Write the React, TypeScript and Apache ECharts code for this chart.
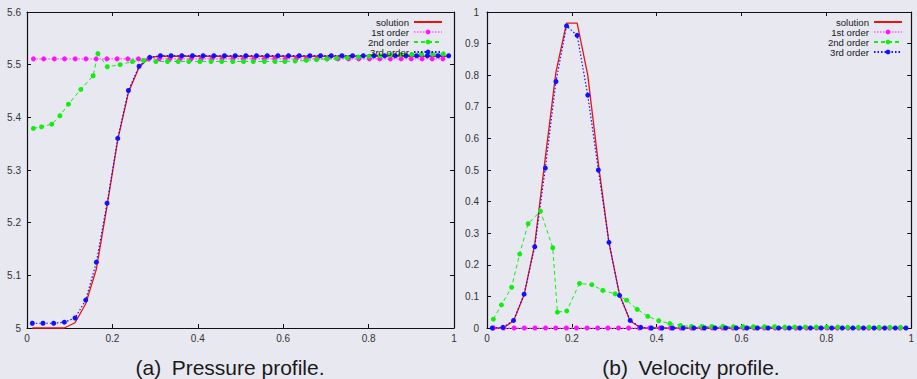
import React, { useEffect, useRef } from "react";
import * as echarts from "echarts";

// Cell centres used by the exact solution and the 3rd order scheme
const xCells = [
  0.0125, 0.0375, 0.0625, 0.0875, 0.1125, 0.1375, 0.1625, 0.1875, 0.2125, 0.2375,
  0.2625, 0.2875, 0.3125, 0.3375, 0.3625, 0.3875, 0.4125, 0.4375, 0.4625, 0.4875,
  0.5125, 0.5375, 0.5625, 0.5875, 0.6125, 0.6375, 0.6625, 0.6875, 0.7125, 0.7375,
  0.7625, 0.7875, 0.8125, 0.8375, 0.8625, 0.8875, 0.9125, 0.9375, 0.9625, 0.9875,
];

// Nodes of the 1st order scheme
const xFirst = [
  0.015, 0.039, 0.064, 0.088, 0.113, 0.138, 0.162, 0.187, 0.211, 0.236,
  0.261, 0.285, 0.31, 0.334, 0.359, 0.384, 0.408, 0.433, 0.457, 0.482,
  0.507, 0.531, 0.556, 0.58, 0.605, 0.63, 0.654, 0.679, 0.703, 0.728,
  0.753, 0.777, 0.802, 0.826, 0.851, 0.876, 0.9, 0.925, 0.949, 0.974,
];

// Nodes of the 2nd order scheme (refined near the pulse)
const xSecond = [
  0.015, 0.034, 0.058, 0.077, 0.097, 0.126, 0.155, 0.166, 0.188, 0.218,
  0.247, 0.273, 0.302, 0.329, 0.354, 0.379, 0.405, 0.431, 0.456, 0.482,
  0.507, 0.53, 0.556, 0.581, 0.604, 0.628, 0.654, 0.678, 0.702, 0.725,
  0.75, 0.776, 0.801, 0.827, 0.85, 0.875, 0.901, 0.924, 0.95, 0.975,
];

// (a) pressure
const pSolution = [
  5.0, 5.0, 5.0, 5.0, 5.01, 5.046, 5.112, 5.232, 5.357, 5.447,
  5.495, 5.514, 5.516, 5.516, 5.516, 5.516, 5.516, 5.516, 5.516, 5.516,
  5.516, 5.516, 5.516, 5.516, 5.516, 5.516, 5.516, 5.516, 5.516, 5.516,
  5.516, 5.516, 5.516, 5.516, 5.516, 5.516, 5.516, 5.516, 5.516, 5.516,
];
const pFirst = [
  5.511, 5.511, 5.511, 5.511, 5.511, 5.511, 5.511, 5.511, 5.511, 5.511,
  5.511, 5.511, 5.511, 5.511, 5.511, 5.511, 5.511, 5.511, 5.511, 5.511,
  5.511, 5.511, 5.511, 5.511, 5.511, 5.511, 5.511, 5.511, 5.511, 5.511,
  5.511, 5.511, 5.511, 5.511, 5.511, 5.511, 5.511, 5.511, 5.511, 5.511,
];
const pSecond = [
  5.379, 5.382, 5.387, 5.403, 5.425, 5.453, 5.479, 5.521, 5.496, 5.5,
  5.506, 5.508, 5.506, 5.506, 5.506, 5.506, 5.506, 5.506, 5.506, 5.506,
  5.506, 5.506, 5.506, 5.506, 5.506, 5.507, 5.508, 5.5095, 5.511, 5.512,
  5.513, 5.5145, 5.516, 5.517, 5.518, 5.519, 5.5195, 5.52, 5.52, 5.5205,
];
const pThird = [
  5.009, 5.009, 5.009, 5.011, 5.019, 5.053, 5.125, 5.237, 5.36, 5.451,
  5.497, 5.514, 5.517, 5.517, 5.517, 5.517, 5.517, 5.517, 5.517, 5.517,
  5.517, 5.517, 5.517, 5.517, 5.517, 5.517, 5.517, 5.517, 5.517, 5.517,
  5.517, 5.517, 5.517, 5.517, 5.517, 5.517, 5.517, 5.517, 5.517, 5.517,
];

// (b) velocity
const uSolution = [
  0, 0, 0.022, 0.105, 0.265, 0.54, 0.81, 0.965, 0.965, 0.8,
  0.52, 0.27, 0.105, 0.022, 0, 0, 0, 0, 0, 0,
  0, 0, 0, 0, 0, 0, 0, 0, 0, 0,
  0, 0, 0, 0, 0, 0, 0, 0, 0, 0,
];
const uFirst = [
  0, 0, 0, 0, 0, 0, 0, 0, 0, 0,
  0, 0, 0, 0, 0, 0, 0, 0, 0, 0,
  0, 0, 0, 0, 0, 0, 0, 0, 0, 0,
  0, 0, 0, 0, 0, 0, 0, 0, 0, 0,
];
const uSecond = [
  0.028, 0.073, 0.129, 0.234, 0.33, 0.37, 0.254, 0.05, 0.054, 0.141,
  0.137, 0.119, 0.108, 0.088, 0.059, 0.037, 0.023, 0.014, 0.008, 0.005,
  0.005, 0.005, 0.005, 0.004, 0.004, 0.004, 0.004, 0.004, 0.003, 0.003,
  0.003, 0.003, 0.003, 0.003, 0.002, 0.002, 0.002, 0.002, 0.002, 0.002,
];
const uThird = [
  0, 0.002, 0.024, 0.107, 0.257, 0.506, 0.78, 0.956, 0.926, 0.737,
  0.5, 0.271, 0.103, 0.024, 0.002, 0, 0, 0, 0, 0,
  0, 0, 0, 0, 0, 0, 0, 0, 0, 0,
  0, 0, 0, 0, 0, 0, 0, 0, 0, 0,
];

const seriesNames = ["solution", "1st order", "2nd order", "3rd order"];
const captions = ["(a)\u2002Pressure profile.", "(b)\u2002Velocity profile."];

const FONT = '"Liberation Sans", Arial, Helvetica, sans-serif';
const BG = "#e8e8f1";

const pairs = (xs: number[], ys: number[]) => xs.map((x, i) => [x, ys[i]]);

function profileSeries(idx: number, sol: number[], first: number[], second: number[], third: number[]) {
  const base = {
    type: "line",
    xAxisIndex: idx,
    yAxisIndex: idx,
    clip: false,
    silent: true,
    emphasis: { disabled: true },
  };
  return [
    {
      ...base,
      name: seriesNames[0],
      data: pairs(xCells, sol),
      symbol: "none",
      lineStyle: { color: "#ee1111", width: 1.3, type: "solid" },
      itemStyle: { color: "#ee1111" },
    },
    {
      ...base,
      name: seriesNames[1],
      data: pairs(xFirst, first),
      symbol: "circle",
      symbolSize: 5,
      lineStyle: { color: "#ff77ff", width: 1.6, type: [1.5, 1.5] },
      itemStyle: { color: "#ff11ff" },
    },
    {
      ...base,
      name: seriesNames[2],
      data: pairs(xSecond, second),
      symbol: "circle",
      symbolSize: 5,
      lineStyle: { color: "#11ee11", width: 1, type: [4, 3] },
      itemStyle: { color: "#11ee11" },
    },
    {
      ...base,
      name: seriesNames[3],
      data: pairs(xCells, third),
      symbol: "circle",
      symbolSize: 5,
      lineStyle: { color: "#1111ff", width: 1.2, type: [1.5, 2] },
      itemStyle: { color: "#1111ff" },
    },
  ];
}

function xAxisPair() {
  const common = {
    type: "value",
    min: 0,
    max: 1,
    interval: 0.2,
    splitLine: { show: false },
    axisLine: { show: true, onZero: false, lineStyle: { color: "#111", width: 1.2 } },
    axisTick: { show: true, inside: true, length: 4, lineStyle: { color: "#111" } },
  };
  return [
    {
      ...common,
      position: "bottom",
      axisLabel: { show: true, fontSize: 10, color: "#333", fontFamily: FONT, margin: 5 },
    },
    { ...common, position: "top", axisLabel: { show: false } },
  ];
}

function yAxisPair(min: number, max: number, step: number, margin: number) {
  const common = {
    type: "value",
    min,
    max,
    interval: step,
    splitLine: { show: false },
    axisLine: { show: true, onZero: false, lineStyle: { color: "#111", width: 1.2 } },
    axisTick: { show: true, inside: true, length: 4, lineStyle: { color: "#111" } },
  };
  return [
    {
      ...common,
      position: "left",
      axisLabel: { show: true, fontSize: 10, color: "#333", fontFamily: FONT, margin },
    },
    { ...common, position: "right", axisLabel: { show: false } },
  ];
}

function legendAt(right: number) {
  return {
    // the exact solution is drawn as a bare line, so its key has no marker
    data: seriesNames.map((name, i) =>
      i === 0 ? { name, itemStyle: { opacity: 0 } } : { name }
    ),
    orient: "vertical",
    align: "right",
    right,
    top: 17,
    padding: 0,
    itemGap: 0,
    itemWidth: 28,
    itemHeight: 6,
    selectedMode: false,
    backgroundColor: "transparent",
    textStyle: { fontSize: 9.6, lineHeight: 9.7, color: "#1a1a1a", fontFamily: FONT },
  };
}

export default function App() {
  const ref = useRef<HTMLDivElement>(null);

  useEffect(() => {
    if (!ref.current) return;
    const chart = echarts.init(ref.current, undefined, { renderer: "svg" });
    const [xa0, xa1] = xAxisPair();
    const [xb0, xb1] = xAxisPair();
    const [ya0, ya1] = yAxisPair(5, 5.6, 0.1, 6);
    const [yb0, yb1] = yAxisPair(0, 1, 0.1, 8);
    // axis order: 0 = left plot, 1 = left plot mirror, 2 = right plot, 3 = right plot mirror
    const xAxes = [xa0, xa1, xb0, xb1].map((a, i) => ({ ...a, gridIndex: i < 2 ? 0 : 1 }));
    const yAxes = [ya0, ya1, yb0, yb1].map((a, i) => ({ ...a, gridIndex: i < 2 ? 0 : 1 }));

    chart.setOption({
      animation: false,
      backgroundColor: BG,
      grid: [
        { left: 27, top: 12, width: 427, height: 316 },
        { left: 487, top: 12, width: 428, height: 316 },
      ],
      xAxis: xAxes,
      yAxis: yAxes,
      legend: [legendAt(474), legendAt(14)],
      series: [
        ...profileSeries(0, pSolution, pFirst, pSecond, pThird),
        ...profileSeries(2, uSolution, uFirst, uSecond, uThird),
      ],
      graphic: [
        {
          type: "text",
          x: 230,
          y: 367,
          style: {
            text: captions[0],
            align: "center",
            verticalAlign: "middle",
            font: `21px ${FONT}`,
            fill: "#1a1a1a",
          },
        },
        {
          type: "text",
          x: 691,
          y: 367,
          style: {
            text: captions[1],
            align: "center",
            verticalAlign: "middle",
            font: `21px ${FONT}`,
            fill: "#1a1a1a",
          },
        },
      ],
    });
    return () => chart.dispose();
  }, []);

  return (
    <div
      ref={ref}
      style={{ position: "absolute", left: 0, top: 0, width: 917, height: 379 }}
    />
  );
}
